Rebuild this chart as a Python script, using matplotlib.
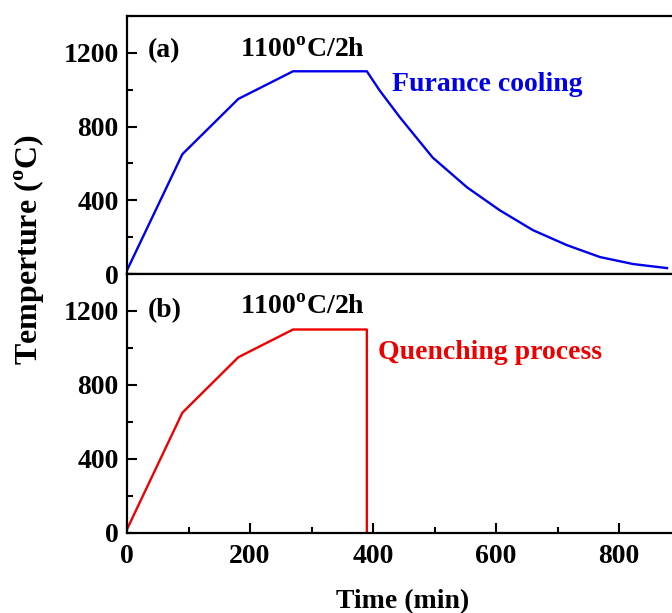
import numpy as np
import matplotlib
matplotlib.use("Agg")
import matplotlib.pyplot as plt
from matplotlib.ticker import MultipleLocator

plt.rcParams['font.family'] = 'Liberation Serif'
plt.rcParams['font.weight'] = 'bold'
plt.rcParams['axes.labelweight'] = 'bold'
plt.rcParams['mathtext.fontset'] = 'custom'
plt.rcParams['mathtext.rm'] = 'Liberation Serif:bold'
plt.rcParams['mathtext.bf'] = 'Liberation Serif:bold'

# heating stage (same for both)
t_heat = [0, 90, 181, 270, 390]
T_heat = [20, 650, 950, 1100, 1100]

# furnace cooling after soaking
t_cool = [390, 411, 444, 497, 553, 606, 660, 715, 769, 823, 878]
T_cool = [1100, 995, 849, 632, 470, 346, 238, 157, 92, 54, 32]

# quenching: straight drop
t_quench = [390, 390]
T_quench = [1100, 0]

fig = plt.figure(figsize=(6.72, 6.13), dpi=100)
W, H = 672, 613
left, right = 127 / W, 680.5 / W
ax1 = fig.add_axes([left, 1 - 274 / H, right - left, 258 / H])
ax2 = fig.add_axes([left, 1 - 533 / H, right - left, 259 / H], sharex=ax1)

ax1.plot(t_heat + t_cool[1:], T_heat + T_cool[1:], color='#0000ee', lw=1.7)
ax2.plot(t_heat + t_quench[1:], T_heat + T_quench[1:], color='#ee0000', lw=1.7)

for ax in (ax1, ax2):
    ax.set_xlim(0, 900)
    ax.set_ylim(0, 1400)
    ax.yaxis.set_major_locator(MultipleLocator(400))
    ax.yaxis.set_minor_locator(MultipleLocator(200))
    ax.xaxis.set_major_locator(MultipleLocator(200))
    ax.xaxis.set_minor_locator(MultipleLocator(100))
    ax.tick_params(which='both', direction='in', width=1.5, labelsize=20,
                   top=False, right=False)
    ax.tick_params(which='major', length=7)
    ax.tick_params(which='minor', length=4)
    ax.tick_params(axis='y', pad=6)
    ax.tick_params(axis='x', pad=8)
    for sp in ax.spines.values():
        sp.set_linewidth(1.6)

ax1.tick_params(axis='x', which='both', bottom=False, labelbottom=False)

fs = 20
ax1.text(0.038, 0.841, '(a)', transform=ax1.transAxes, fontsize=fs, va='baseline')
ax1.text(0.204, 0.841, r'1100$^{\rm o}$C/2h', transform=ax1.transAxes, fontsize=fs, va='baseline')
ax1.text(0.479, 0.709, 'Furance cooling', transform=ax1.transAxes, fontsize=fs,
         va='baseline', color='#0000ee')

ax2.text(0.038, 0.832, '(b)', transform=ax2.transAxes, fontsize=fs, va='baseline')
ax2.text(0.204, 0.845, r'1100$^{\rm o}$C/2h', transform=ax2.transAxes, fontsize=fs, va='baseline')
ax2.text(0.4535, 0.672, 'Quenching process', transform=ax2.transAxes, fontsize=fs,
         va='baseline', color='#ee0000')

ax2.set_xlabel('Time (min)', fontsize=20)
ax2.xaxis.label.set_va('center')
ax2.xaxis.set_label_coords((403 - 127) / (680.5 - 127), -(602 - 533) / 259)
fig.text(30 / W, 1 - 250 / H, r'Temperture ($^{\rm o}$C)', rotation=90,
         fontsize=23, ha='center', va='center')

fig.savefig('out.png', dpi=100)
